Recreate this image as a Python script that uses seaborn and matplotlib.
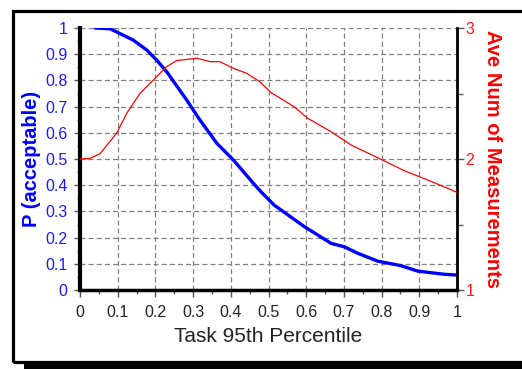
import matplotlib
matplotlib.use("Agg")
import matplotlib.pyplot as plt
import seaborn as sns
import pandas as pd
from matplotlib.patches import Rectangle
from matplotlib.ticker import MultipleLocator

sns.set_style("white")
plt.rcParams['font.family'] = ['Liberation Sans', 'DejaVu Sans']

# Blue series: P(acceptable) vs Task 95th percentile
p_x = [0.04, 0.08, 0.141, 0.177, 0.203, 0.23, 0.283, 0.318, 0.363, 0.407, 0.46,
       0.48, 0.515, 0.595, 0.666, 0.701, 0.737, 0.79, 0.851, 0.896, 0.966, 1.0]
p_y = [1.0, 0.997, 0.954, 0.916, 0.878, 0.833, 0.725, 0.649, 0.56, 0.496, 0.407,
       0.375, 0.324, 0.242, 0.178, 0.165, 0.14, 0.11, 0.093, 0.072, 0.06, 0.057]

# Red series: average number of measurements
m_x = [0.0, 0.027, 0.053, 0.097, 0.124, 0.159, 0.203, 0.23, 0.256, 0.31, 0.345,
       0.371, 0.407, 0.442, 0.477, 0.507, 0.568, 0.604, 0.666, 0.719, 0.798,
       0.86, 0.922, 1.0]
m_y = [2.0, 2.005, 2.04, 2.196, 2.349, 2.5, 2.628, 2.705, 2.751, 2.769, 2.743,
       2.743, 2.692, 2.654, 2.59, 2.506, 2.399, 2.311, 2.208, 2.107, 1.998,
       1.911, 1.84, 1.746]

x_ticks = [0, 0.1, 0.2, 0.3, 0.4, 0.5, 0.6, 0.7, 0.8, 0.9, 1]
x_labels = ["0", "0.1", "0.2", "0.3", "0.4", "0.5", "0.6", "0.7", "0.8", "0.9", "1"]
y_ticks = x_ticks
y_labels = x_labels
r_ticks = [1, 2, 3]
r_labels = ["1", "2", "3"]

W, H = 522, 369
fig = plt.figure(figsize=(W / 100, H / 100), dpi=100)
fig.patch.set_facecolor("white")

# frame and shadow
fig.add_artist(Rectangle((12.5 / W, 1 - 362 / H), (W + 20) / W, (362 - 10.5) / H,
                         transform=fig.transFigure, fill=False, edgecolor="black",
                         linewidth=2.3))
fig.add_artist(Rectangle((24 / W, 0), (W - 24) / W, 8 / H, transform=fig.transFigure,
                         facecolor="black", edgecolor="none"))

ax = fig.add_axes([80 / W, 1 - 290 / H, (457 - 80) / W, (290 - 28) / H])
ax2 = ax.twinx()

df_p = pd.DataFrame({"x": p_x, "y": p_y})
df_m = pd.DataFrame({"x": m_x, "y": m_y})
sns.lineplot(data=df_p, x="x", y="y", ax=ax, color="#0000ff", linewidth=2.4,
             sort=False, zorder=5)
sns.lineplot(data=df_m, x="x", y="y", ax=ax2, color="#ff0000", linewidth=0.9,
             sort=False, zorder=5)

ax.set_xlim(0, 1)
ax.set_ylim(0, 1)
ax2.set_ylim(1, 3)

tick_fs = 11.5
ax.set_xticks(x_ticks)
ax.set_xticklabels(x_labels, fontsize=tick_fs, color="#222222")
ax.set_yticks(y_ticks)
ax.set_yticklabels(y_labels, fontsize=tick_fs, color="#1a1aff")
ax.xaxis.set_minor_locator(MultipleLocator(0.05))
ax.yaxis.set_minor_locator(MultipleLocator(0.05))
ax2.set_yticks(r_ticks)
ax2.set_yticklabels(r_labels, fontsize=tick_fs, color="#ff1a1a")
ax2.yaxis.set_minor_locator(MultipleLocator(0.5))

ax.tick_params(axis="x", which="major", length=5, width=1, color="#555555", pad=6,
               bottom=True)
ax.tick_params(axis="x", which="minor", length=3, width=1, color="#555555", bottom=True)
ax.tick_params(axis="y", which="major", length=4, width=1, color="#555555", pad=5,
               left=True)
ax.tick_params(axis="y", which="minor", length=2, width=1, color="#555555", left=True)
ax2.tick_params(axis="y", which="major", length=5, width=1, color="#555555", pad=1,
                right=True)
ax2.tick_params(axis="y", which="minor", length=4, width=1, color="#555555", right=True)

ax.grid(True, which="major", color="#808080", linestyle=(0, (4, 2.5)), linewidth=0.9)
ax.set_axisbelow(True)

for s in ["top"]:
    ax.spines[s].set_visible(False)
    ax2.spines[s].set_visible(False)
ax.spines["left"].set_linewidth(3)
ax.spines["left"].set_color("black")
ax.spines["bottom"].set_linewidth(2.5)
ax.spines["bottom"].set_color("black")
ax2.spines["right"].set_linewidth(2)
ax2.spines["right"].set_color("black")
ax2.spines["left"].set_visible(False)
ax2.spines["bottom"].set_visible(False)
ax.spines["right"].set_visible(False)

ax.set_xlabel("Task 95th Percentile", fontsize=15, color="#222222", labelpad=5)
ax.set_ylabel("P (acceptable)", fontsize=14.5, color="#0000ff", fontweight="bold",
              labelpad=3)
ax2.set_ylabel("Ave Num of Measurements", fontsize=14.5, color="#ff0000",
               fontweight="bold", rotation=270, labelpad=20)

fig.savefig("out.png", dpi=100)
